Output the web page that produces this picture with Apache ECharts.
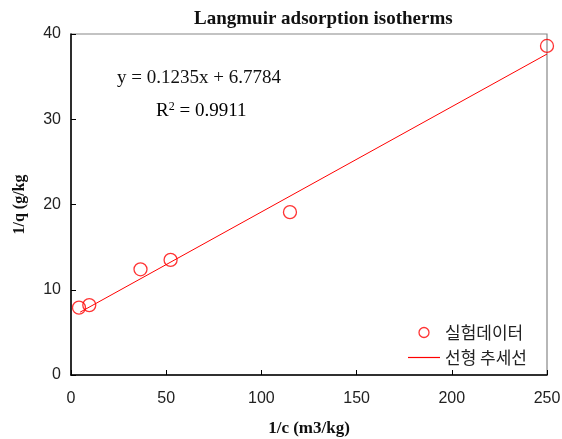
<!DOCTYPE html>
<html><head><meta charset="utf-8">
<script src="https://cdn.jsdelivr.net/npm/echarts@6/dist/echarts.min.js"></script>
<style>html,body{margin:0;padding:0;background:#fff}#c{width:562px;height:439px}</style>
</head><body><div id="c"></div>
<script>
const xData = [4.2, 9.6, 36.5, 52.3, 115, 250];
const yData = [7.9, 8.2, 12.4, 13.5, 19.1, 38.6];
const trendX = [4.8, 250];
const trendY = [7.37, 37.65];
const xTicks = [0, 50, 100, 150, 200, 250];
const yTicks = [0, 10, 20, 30, 40];
const seriesNames = ['실험데이터', '선형 추세선'];

const chart = echarts.init(document.getElementById('c'));
const tickFont = {fontFamily: '"Liberation Sans Narrow","Liberation Sans",sans-serif', fontSize: 16, color: '#222'};
const serifBold = {fontFamily: '"Liberation Serif",serif', fontWeight: 'bold', color: '#111'};
chart.setOption({
  animation: false,
  title: {text: 'Langmuir adsorption isotherms', left: 189, top: 5,
    textStyle: Object.assign({fontSize: 19}, serifBold)},
  grid: {left: 71, right: 15, top: 34, bottom: 64, outerBoundsMode: 'none', containLabel: false},
  xAxis: {type: 'value', min: xTicks[0], max: xTicks[xTicks.length-1], interval: 50,
    name: '1/c (m3/kg)', nameLocation: 'middle', nameGap: 45,
    nameTextStyle: Object.assign({fontSize: 17}, serifBold),
    axisLine: {lineStyle: {color: '#000', width: 1.5}}, axisTick: {inside: true, length: 5, lineStyle: {color: '#000'}},
    axisLabel: Object.assign({margin: 16}, tickFont), splitLine: {show: false}},
  yAxis: {type: 'value', min: yTicks[0], max: yTicks[yTicks.length-1], interval: 10,
    name: '1/q (g/kg', nameLocation: 'middle', nameGap: 43, nameRotate: 90,
    nameTextStyle: Object.assign({fontSize: 16}, serifBold),
    axisLine: {show: true, lineStyle: {color: '#000', width: 1.5}}, axisTick: {show: true, inside: true, length: 5, lineStyle: {color: '#000'}},
    axisLabel: Object.assign({margin: 10}, tickFont), splitLine: {show: false}},
  legend: {left: 403, top: 319, orient: 'vertical', itemGap: 8, itemWidth: 32, itemHeight: 10,
    textStyle: {fontFamily: '"Noto Sans CJK KR",sans-serif', fontSize: 17, color: '#222'},
    data: [{name: seriesNames[0], icon: 'circle', itemStyle: {color: 'rgba(255,255,255,0)', borderColor: '#ff0000', borderWidth: 1.3}},
           {name: seriesNames[1], icon: 'path://M0,0h320v12h-320z', itemStyle: {color: '#ff0000', borderColor: '#ff0000', borderWidth: 0}}]},
  series: [
    {name: seriesNames[0], type: 'scatter', symbol: 'circle', symbolSize: 13,
      itemStyle: {color: 'rgba(255,255,255,0)', borderColor: '#ff0000', borderWidth: 1.3},
      data: xData.map((x, i) => [x, yData[i]]), z: 3},
    {name: seriesNames[1], type: 'line', symbol: 'none', lineStyle: {color: '#ff0000', width: 1}, itemStyle: {color: '#ff0000', borderColor: '#ff0000'},
      data: trendX.map((x, i) => [x, trendY[i]]), z: 2}
  ],
  graphic: [
    {type: 'rect', shape: {x: 71, y: 34, width: 476, height: 341}, style: {fill: 'none', stroke: '#888', lineWidth: 1.2}, z: 0, silent: true},
    {type: 'text', left: 117, top: 69, style: {text: 'y = 0.1235x + 6.7784', font: '19px "Liberation Serif", serif', fill: '#111'}},
    {type: 'text', left: 156, top: 101, style: {text: '{r|R}{s|2}{r| = 0.9911}',
      rich: {r: {fontFamily: '"Liberation Serif",serif', fontSize: 19, color: '#111', verticalAlign: 'bottom'},
             s: {fontFamily: '"Liberation Serif",serif', fontSize: 12, color: '#111', verticalAlign: 'top', padding: [0,0,8,0]}}}}
  ]
});
</script></body></html>
